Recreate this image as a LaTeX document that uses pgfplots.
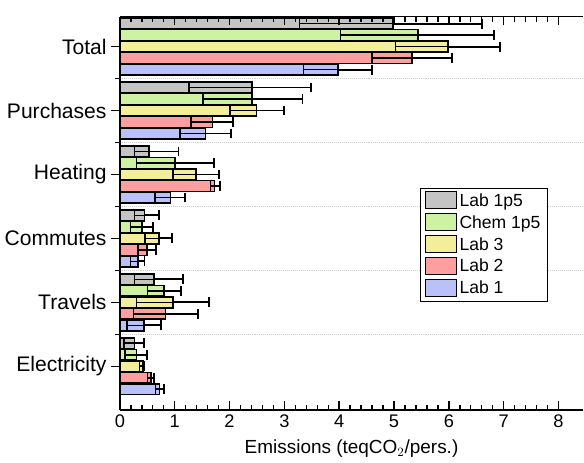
\documentclass[border={0pt 0pt 0pt 10pt}]{standalone}
\usepackage{pgfplots}
\pgfplotsset{compat=1.18}
\usepackage{pgfplotstable}
\usepackage{fontspec}
\setmainfont{Liberation Sans}
\definecolor{cgray}{HTML}{C4C4C4}
\definecolor{cgreen}{HTML}{CDF2A2}
\definecolor{cyellow}{HTML}{F3EE9A}
\definecolor{cred}{HTML}{FF9E9E}
\definecolor{cblue}{HTML}{BAC0F8}
\pgfplotstableread{
y A B C
5 3.28 4.98 6.60
4 1.26 2.41 3.49
3 0.27 0.53 1.07
2 0.27 0.45 0.71
1 0.27 0.62 1.15
0 0.08 0.27 0.44
}\labonefive
\pgfplotstableread{
y A B C
5 4.02 5.44 6.83
4 1.52 2.41 3.33
3 0.30 1.01 1.71
2 0.19 0.40 0.60
1 0.50 0.80 1.11
0 0.09 0.30 0.50
}\chem
\pgfplotstableread{
y A B C
5 5.03 5.98 6.94
4 2.01 2.49 3.00
3 0.97 1.39 1.81
2 0.46 0.71 0.95
1 0.30 0.97 1.63
0 0.36 0.42 0.45
}\labthree
\pgfplotstableread{
y A B C
5 4.60 5.33 6.06
4 1.30 1.69 2.07
3 1.65 1.73 1.83
2 0.33 0.49 0.66
1 0.25 0.83 1.42
0 0.50 0.57 0.62
}\labtwo
\pgfplotstableread{
y A B C
5 3.35 3.98 4.60
4 1.10 1.56 2.02
3 0.64 0.92 1.19
2 0.19 0.33 0.45
1 0.13 0.44 0.75
0 0.65 0.72 0.80
}\labone
\newcommand\series[4]{%
\addplot[fill=#2,draw=black,line width=1.1pt,bar shift=#3,
  error bars/.cd,x dir=plus,x explicit,error bar style={line width=1.3pt,black,solid},error mark options={rotate=90,mark size=3.5pt,line width=1.3pt,black}]
  table[x=B,y=y,x error expr=\thisrow{C}-\thisrow{B}]{#1};
\addlegendentry{#4}
\addplot[draw=black,fill=none,line width=1.1pt,bar width=0.085,bar shift=#3+0.0425,forget plot] table[x=B,y=y]{#1};
\addplot[fill=#2,draw=black,line width=1.1pt,bar shift=#3,forget plot] table[x=A,y=y]{#1};
}
\begin{document}
\begin{tikzpicture}
\begin{axis}[
  width=330pt,height=280pt,scale only axis,axis on top,
  xbar,bar width=0.17,clip=false,
  xmin=0,xmax=8.45,ymin=-0.68,ymax=5.47,
  axis x line*=box, axis y line*=left,
  separate axis lines,
  x axis line style={line width=1.2pt},
  y axis line style={line width=1.2pt},
  xtick={0,...,8},minor x tick num=4,
  xtick pos=both,
  x tick style={line width=1pt,black},
  tick align=inside,
  major tick length=6pt,minor tick length=3.5pt,
  ytick={0,...,5},
  yticklabels={Electricity,Travels,Commutes,Heating,Purchases,Total},
  y tick style={line width=1pt,black},
  ytick pos=left,
  ytick align=outside,
  minor ytick={0.5,1.5,2.5,3.5,4.5},
  minor y tick style={line width=1pt},
  yminorgrids,
  minor grid style={densely dotted,gray!40,line width=0.6pt},
  /pgf/number format/assume math mode=true,
  tick label style={font=\fontsize{13}{15}\selectfont},
  yticklabel style={font=\fontsize{15}{17}\selectfont},
  xlabel={Emissions (teqCO$_2$/pers.)},
  xlabel style={font=\fontsize{13.5}{15}\selectfont,yshift=-2pt},
  legend cell align=left,
  legend style={at={(0.648,0.565)},anchor=north west,draw=black,line width=0.6pt,
    font=\fontsize{12.5}{14}\selectfont,row sep=1pt},
  legend image code/.code={\draw[#1,line width=0.8pt] (0pt,-5.5pt) rectangle (22pt,6.5pt);},
]
\series{\labonefive}{cgray}{0.36}{Lab 1p5}
\series{\chem}{cgreen}{0.18}{Chem 1p5}
\series{\labthree}{cyellow}{0}{Lab 3}
\series{\labtwo}{cred}{-0.18}{Lab 2}
\series{\labone}{cblue}{-0.36}{Lab 1}
\end{axis}
\end{tikzpicture}
\end{document}
